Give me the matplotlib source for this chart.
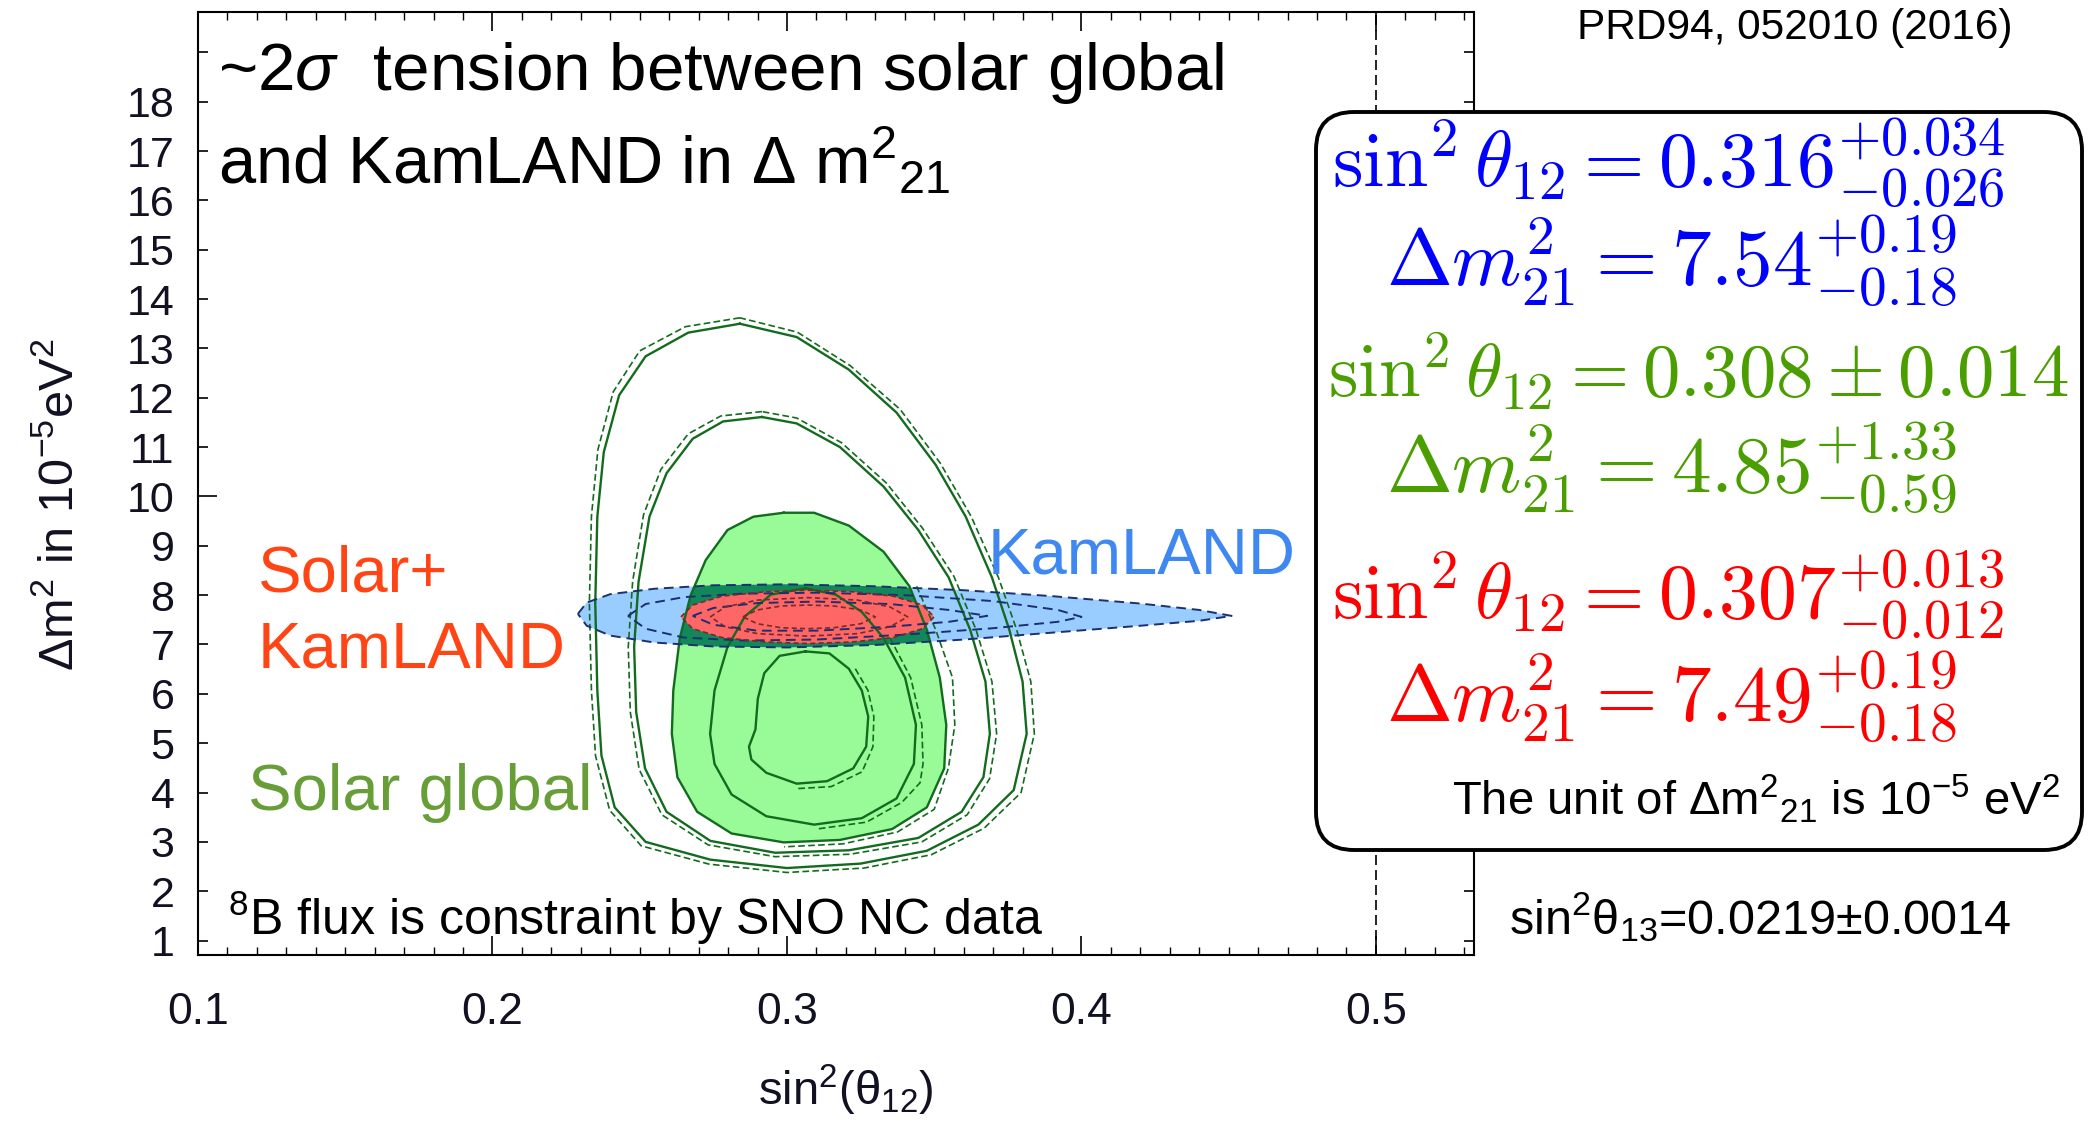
import numpy as np
import matplotlib
matplotlib.use('Agg')
import matplotlib.pyplot as plt
from matplotlib.patches import FancyBboxPatch, Polygon
from matplotlib.transforms import IdentityTransform

plt.rcParams['font.family'] = ['Liberation Sans', 'DejaVu Sans']
plt.rcParams['mathtext.fontset'] = 'custom'
plt.rcParams['mathtext.rm'] = 'Liberation Sans'
plt.rcParams['mathtext.it'] = 'Liberation Sans:italic'
plt.rcParams['mathtext.bf'] = 'Liberation Sans:bold'

# ---- data (sin^2 theta12, dm2 in 1e-5 eV^2) ----
x_ticks = [0.1, 0.2, 0.3, 0.4, 0.5]
x_labels = ['0.1', '0.2', '0.3', '0.4', '0.5']
y_ticks = list(range(1, 20))
y_labels = [str(v) for v in range(1, 19)] + ['']

# solar global, outermost contour (solid) and its dashed twin
sol3_x = [0.284, 0.2665, 0.252, 0.243, 0.2378, 0.2356, 0.2349, 0.2356, 0.237, 0.2415, 0.252, 0.274, 0.300,
          0.325, 0.3475, 0.365, 0.377, 0.3814, 0.380, 0.3755, 0.3696, 0.3607, 0.3505, 0.3372, 0.321, 0.3033]
sol3_y = [13.50, 13.32, 12.84, 12.05, 10.90, 9.59, 7.83, 6.07, 4.75, 3.70, 3.00, 2.64, 2.47,
          2.56, 2.82, 3.35, 4.05, 5.19, 6.25, 7.30, 8.36, 9.59, 10.64, 11.70, 12.57, 13.23]
sol3d_x = [0.284, 0.2655, 0.250, 0.241, 0.2358, 0.2336, 0.2329, 0.2336, 0.235, 0.2398, 0.2505, 0.2735, 0.300,
           0.3262, 0.349, 0.367, 0.3795, 0.384, 0.3828, 0.378, 0.3718, 0.3625, 0.352, 0.3385, 0.3215, 0.3035]
sol3d_y = [13.62, 13.44, 12.95, 12.12, 10.95, 9.60, 7.83, 6.07, 4.74, 3.64, 2.92, 2.55, 2.38,
           2.47, 2.74, 3.28, 4.00, 5.19, 6.25, 7.30, 8.36, 9.60, 10.68, 11.76, 12.65, 13.33]

# second contour
sol2_x = [0.2915, 0.2783, 0.268, 0.2591, 0.2533, 0.2496, 0.2481, 0.2488, 0.2518, 0.2591, 0.274, 0.296,
          0.321, 0.3446, 0.3593, 0.3667, 0.3689, 0.3674, 0.3622, 0.3549, 0.3446, 0.3328, 0.318, 0.3033]
sol2_y = [11.61, 11.52, 11.17, 10.47, 9.59, 8.27, 6.95, 5.63, 4.49, 3.61, 3.02, 2.78,
          2.83, 3.08, 3.61, 4.31, 5.19, 6.25, 7.30, 8.36, 9.32, 10.20, 11.00, 11.48]
sol2d_x = [0.2915, 0.2775, 0.2665, 0.2572, 0.2513, 0.2476, 0.2461, 0.2468, 0.2498, 0.2575, 0.2732, 0.296,
           0.3215, 0.3458, 0.3612, 0.3688, 0.3712, 0.3696, 0.3642, 0.3567, 0.346, 0.3338, 0.3185, 0.3033]
sol2d_y = [11.72, 11.63, 11.27, 10.55, 9.63, 8.28, 6.95, 5.63, 4.47, 3.55, 2.94, 2.70,
           2.75, 3.00, 3.55, 4.28, 5.19, 6.25, 7.30, 8.38, 9.36, 10.27, 11.09, 11.59]

# filled region
sol1_x = [0.2989, 0.2886, 0.2798, 0.2724, 0.2673, 0.2636, 0.2614, 0.2609, 0.2628, 0.2695, 0.2812, 0.2989,
          0.318, 0.3357, 0.3475, 0.3534, 0.3541, 0.3519, 0.3475, 0.3416, 0.3328, 0.321, 0.3092]
sol1_y = [9.67, 9.59, 9.32, 8.71, 8.00, 7.13, 6.07, 5.19, 4.31, 3.61, 3.17, 2.99,
          3.04, 3.26, 3.70, 4.49, 5.37, 6.33, 7.30, 8.18, 8.88, 9.41, 9.67]
sol1d_x = [0.3440, 0.3505, 0.3562, 0.3570, 0.3548, 0.3500, 0.3375, 0.3190, 0.2990]
sol1d_y = [8.18, 7.30, 6.33, 5.37, 4.49, 3.66, 3.20, 2.96, 2.90]

# inner contours
inn_x = [0.3063, 0.2945, 0.2857, 0.2798, 0.2754, 0.2739, 0.2754, 0.2812, 0.293, 0.3092, 0.3254, 0.3372,
         0.3431, 0.3438, 0.3401, 0.3328, 0.3254, 0.3166]
inn_y = [8.14, 8.01, 7.57, 6.95, 6.07, 5.19, 4.58, 3.96, 3.52, 3.35, 3.48, 3.88,
         4.58, 5.37, 6.33, 7.13, 7.66, 8.01]
innd_x = [0.3350, 0.3420, 0.3458, 0.3462, 0.3452, 0.3390, 0.3270, 0.3100]
innd_y = [7.13, 6.33, 5.37, 4.58, 4.20, 3.80, 3.40, 3.26]

core_x = [0.3063, 0.2975, 0.2923, 0.2901, 0.2893, 0.2871, 0.2879, 0.293, 0.3033, 0.3136, 0.3225, 0.3269,
          0.3276, 0.3254, 0.321, 0.3144]
core_y = [6.86, 6.77, 6.42, 5.90, 5.28, 4.93, 4.67, 4.40, 4.18, 4.23, 4.49, 4.93,
          5.54, 6.07, 6.51, 6.82]
cored_x = [0.3232, 0.3275, 0.3295, 0.3292, 0.3255, 0.3150, 0.3035]
cored_y = [6.51, 6.07, 5.54, 4.93, 4.42, 4.12, 4.08]

# KamLAND
kl3_x = [0.229, 0.232, 0.240, 0.255, 0.275, 0.300, 0.330, 0.360, 0.390, 0.420, 0.440, 0.451,
         0.440, 0.420, 0.390, 0.360, 0.330, 0.300, 0.275, 0.255, 0.240, 0.232]
kl3_y = [7.62, 7.85, 8.02, 8.13, 8.20, 8.22, 8.18, 8.10, 7.98, 7.83, 7.70, 7.58,
         7.48, 7.38, 7.24, 7.10, 6.99, 6.94, 6.96, 7.04, 7.18, 7.38]
kl2_x = [0.246, 0.252, 0.265, 0.285, 0.310, 0.340, 0.370, 0.392, 0.400, 0.392, 0.370, 0.340,
         0.310, 0.285, 0.265, 0.252]
kl2_y = [7.58, 7.82, 7.96, 8.03, 8.05, 8.00, 7.88, 7.70, 7.56, 7.46, 7.33, 7.20,
         7.10, 7.08, 7.14, 7.32]
kl1_x = [0.268, 0.275, 0.290, 0.310, 0.335, 0.355, 0.368, 0.355, 0.335, 0.310, 0.290, 0.275]
kl1_y = [7.58, 7.74, 7.84, 7.87, 7.82, 7.70, 7.58, 7.46, 7.36, 7.28, 7.28, 7.40]

# Solar + KamLAND
sk3_x = [0.264, 0.268, 0.278, 0.293, 0.307, 0.322, 0.336, 0.346, 0.350, 0.346, 0.336, 0.322,
         0.307, 0.293, 0.278, 0.268]
sk3_y = [7.56, 7.80, 7.98, 8.07, 8.10, 8.07, 7.98, 7.80, 7.56, 7.32, 7.14, 7.05,
         7.02, 7.05, 7.14, 7.32]
sk2_x = [0.274, 0.279, 0.290, 0.307, 0.324, 0.335, 0.341, 0.335, 0.324, 0.307, 0.290, 0.279]
sk2_y = [7.56, 7.76, 7.90, 7.95, 7.90, 7.76, 7.56, 7.36, 7.22, 7.17, 7.22, 7.36]
sk1_x = [0.285, 0.290, 0.298, 0.307, 0.316, 0.325, 0.330, 0.325, 0.316, 0.307, 0.298, 0.290]
sk1_y = [7.56, 7.70, 7.78, 7.80, 7.78, 7.70, 7.56, 7.42, 7.34, 7.32, 7.34, 7.42]


def closed(xs, ys):
    return list(xs) + [xs[0]], list(ys) + [ys[0]]


W, H = 2098, 1126


def px(x, y):
    return x / W, 1 - y / H


fig = plt.figure(figsize=(W / 100, H / 100), dpi=100)
ax = fig.add_axes([198 / W, 1 - 955 / H, (1474 - 198) / W, (955 - 12) / H])
ax.set_xlim(0.1, 0.5333)
ax.set_ylim(0.708, 19.817)

# fills
ax.fill(sol1_x, sol1_y, color='#98fb98', lw=0, zorder=1)
ax.fill(kl3_x, kl3_y, color='#99ccff', lw=0, zorder=2)
overlap = ax.fill(kl3_x, kl3_y, color='#12875a', lw=0, zorder=3)[0]
overlap.set_clip_path(Polygon(np.column_stack([sol1_x, sol1_y]), transform=ax.transData))
ax.fill(sk3_x, sk3_y, color='#ff6666', lw=0, zorder=4)

# solar contours
dg = '#136b1e'
for xs, ys in [(sol3_x, sol3_y), (sol2_x, sol2_y), (sol1_x, sol1_y), (inn_x, inn_y), (core_x, core_y)]:
    cx, cy = closed(xs, ys)
    ax.plot(cx, cy, color=dg, lw=1.7, zorder=5)
for xs, ys in [(sol3d_x, sol3d_y), (sol2d_x, sol2d_y)]:
    cx, cy = closed(xs, ys)
    ax.plot(cx, cy, color=dg, lw=1.2, ls=(0, (4, 2)), zorder=5)
for xs, ys in [(sol1d_x, sol1d_y), (innd_x, innd_y), (cored_x, cored_y)]:
    ax.plot(xs, ys, color=dg, lw=1.2, ls=(0, (4, 2)), zorder=5)

# KamLAND and combined dashed contours
for xs, ys in [(kl3_x, kl3_y), (kl2_x, kl2_y), (kl1_x, kl1_y)]:
    cx, cy = closed(xs, ys)
    ax.plot(cx, cy, color='#1c2f70', lw=1.4, ls=(0, (5, 3)), zorder=6)
for xs, ys in [(sk3_x, sk3_y), (sk2_x, sk2_y), (sk1_x, sk1_y)]:
    cx, cy = closed(xs, ys)
    ax.plot(cx, cy, color='#7a2a2a', lw=1.2, ls=(0, (3, 2)), zorder=6)

ax.axvline(0.5, color='black', lw=1.2, ls=(0, (6, 3)), zorder=7)

# axes styling
for s in ax.spines.values():
    s.set_linewidth(1.5)
ax.set_xticks(x_ticks)
ax.set_xticklabels(x_labels)
ax.set_xticks(np.arange(0.10, 0.5335, 0.01), minor=True)
ax.set_yticks(y_ticks)
ax.set_yticklabels(y_labels)
ax.tick_params(axis='x', which='major', direction='in', length=14, width=1.2, top=True,
               pad=27, labelsize=32, labelcolor='#111122')
ax.tick_params(axis='x', which='minor', direction='in', length=6, width=1.0, top=True)
ax.tick_params(axis='y', which='major', direction='in', length=7, width=1.2, right=True,
               pad=17, labelsize=31, labelcolor='#111122')
for t in ax.yaxis.get_major_ticks():
    if t.get_loc() == 10:
        t.tick1line.set_markersize(13.5)

# texts
fig.text(*px(60, 505), 'Δm$^2$ in 10$^{-5}$eV$^2$', rotation=90, fontsize=35,
         ha='center', va='center', color='#111122')
fig.text(*px(846, 1090), 'sin$^2$(θ$_{12}$)', fontsize=34, ha='center', va='center', color='#111122')

fig.text(*px(218, 90), '~2$\\sigma$  tension between solar global', fontsize=48.5, va='baseline')
fig.text(*px(218, 183), 'and KamLAND in Δ m$^2$$_{21}$', fontsize=48, va='baseline')
fig.text(*px(258, 592), 'Solar+', fontsize=47, color='#ff4515', va='baseline')
fig.text(*px(258, 668), 'KamLAND', fontsize=47, color='#ff4515', va='baseline')
fig.text(*px(248, 810), 'Solar global', fontsize=47, color='#679e37', va='baseline')
fig.text(*px(988, 573), 'KamLAND', fontsize=47, color='#3f88f2', va='baseline')
fig.text(*px(228, 935), '$^8$B flux is constraint by SNO NC data', fontsize=36, va='baseline')
fig.text(*px(1577, 39), 'PRD94, 052010 (2016)', fontsize=30.5, va='baseline')
fig.text(*px(1509, 934), 'sin$^2$θ$_{13}$=0.0219±0.0014', fontsize=35, va='baseline')

box = FancyBboxPatch((1316, H - 850), 766, 738, boxstyle='round,pad=0,rounding_size=38',
                     transform=IdentityTransform(), facecolor='white', edgecolor='black',
                     lw=2.8, zorder=2)
fig.add_artist(box)

blue, green, red = '#0000ff', '#4a9e00', '#ff0000'
box_lines = [
    (1332, 187, r'$\sin^2\theta_{12} = 0.316^{+0.034}_{-0.026}$', blue, 56),
    (1386, 285, r'$\Delta m^2_{21} = 7.54^{+0.19}_{-0.18}$', blue, 57),
    (1328, 397, r'$\sin^2\theta_{12} = 0.308 \pm 0.014$', green, 54),
    (1386, 492, r'$\Delta m^2_{21} = 4.85^{+1.33}_{-0.59}$', green, 57),
    (1332, 619, r'$\sin^2\theta_{12} = 0.307^{+0.013}_{-0.012}$', red, 56),
    (1386, 721, r'$\Delta m^2_{21} = 7.49^{+0.19}_{-0.18}$', red, 57),
]
for x, y, s, c, fs in box_lines:
    fig.text(*px(x, y), s, fontsize=fs, color=c, math_fontfamily='cm', va='baseline', zorder=4)
fig.text(*px(1452, 815), 'The unit of Δm$^2$$_{21}$ is 10$^{-5}$ eV$^2$', fontsize=34,
         va='baseline', zorder=4)

fig.savefig('out.png', dpi=100)
